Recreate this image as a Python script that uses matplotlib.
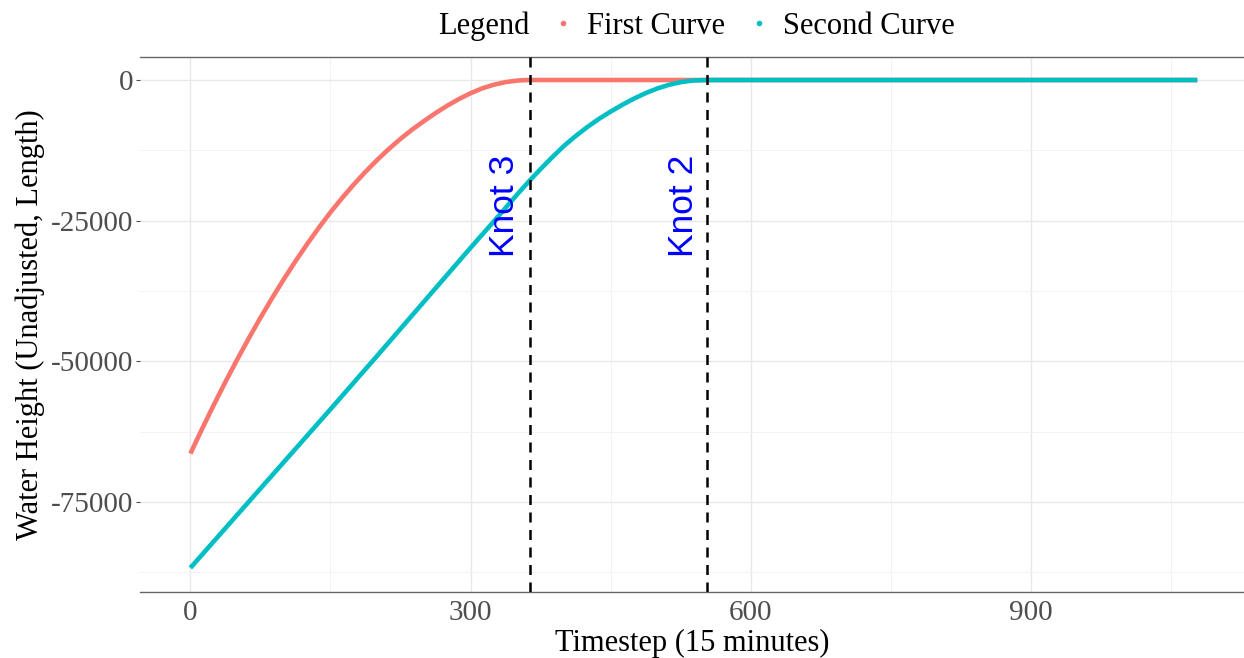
import matplotlib
matplotlib.use("Agg")
import matplotlib.pyplot as plt
from matplotlib.lines import Line2D

# values
first_t = [0, 12.5, 25, 37.5, 50, 62.5, 75, 87.5, 100, 112.5, 125, 137.5, 150, 162.5,
           175, 187.5, 200, 212.5, 225, 237.5, 250, 262.5, 275, 287.5, 300, 312.5,
           325, 337.5, 350, 357, 364, 553, 1078]
first_v = [-66400, -62000, -57750, -53650, -49700, -45900, -42250, -38750, -35400,
           -32200, -29150, -26250, -23500, -20950, -18550, -16300, -14200, -12250,
           -10450, -8800, -7300, -5870, -4560, -3380, -2340, -1480, -830, -370,
           -100, -25, 0, 0, 0]

second_t = [0, 50, 100, 150, 200, 250, 300, 325, 337.5, 350, 362.5, 375, 387.5, 400,
            412.5, 425, 437.5, 450, 462.5, 475, 487.5, 500, 512.5, 525, 537.5, 553, 1078]
second_v = [-86700, -77300, -67900, -58500, -49000, -39400, -29800, -25100, -22700,
            -20300, -18000, -15800, -13700, -11700, -9950, -8350, -6900, -5600,
            -4400, -3300, -2320, -1500, -850, -380, -100, 0, 0]

knots = [364, 553]
knot_labels = ["Knot 3", "Knot 2"]
knot_text_x = [336, 528]
knot_text_y = -22400

red = "#F8766D"
cyan = "#00BFC4"

plt.rcParams["font.family"] = ["Liberation Serif", "DejaVu Serif"]
plt.rcParams["axes.unicode_minus"] = False

fig = plt.figure(figsize=(12.44, 6.58), dpi=100)
ax = fig.add_axes([0.1125, 0.1003, 0.8875, 0.8131])

ax.plot(first_t, first_v, color=red, lw=3.3, solid_capstyle="butt", solid_joinstyle="round", zorder=3)
ax.plot(second_t, second_v, color=cyan, lw=3.3, solid_capstyle="butt", solid_joinstyle="round", zorder=4)

for k, lab, tx in zip(knots, knot_labels, knot_text_x):
    ax.axvline(k, color="black", lw=1.8, linestyle=(0, (4, 3)), zorder=5)
    ax.text(tx, knot_text_y, lab, rotation=90, ha="center", va="center",
            color="#0000FF", fontsize=25.5, family=["Liberation Sans", "DejaVu Sans"], zorder=6)

ax.set_xlim(-54, 1128)
ax.set_ylim(-90983, 4093)
ax.set_xticks([0, 300, 600, 900])
ax.set_xticks([150, 450, 750, 1050], minor=True)
ax.set_yticks([0, -25000, -50000, -75000])
ax.set_yticks([-12500, -37500, -62500, -87500], minor=True)
ax.grid(which="major", color="#E8E8E8", lw=1.0)
ax.grid(which="minor", color="#F3F3F3", lw=0.7)
ax.set_axisbelow(True)

ax.tick_params(axis="x", which="both", length=0, labelsize=21, labelcolor="#4D4D4D", pad=6)
ax.tick_params(axis="y", which="major", length=3, color="#4D4D4D", labelsize=21, labelcolor="#4D4D4D", pad=2)
ax.tick_params(axis="y", which="minor", length=0)

for s in ["left", "right"]:
    ax.spines[s].set_visible(False)
for s in ["top", "bottom"]:
    ax.spines[s].set_color("#666666")
    ax.spines[s].set_linewidth(1.0)

ax.set_xlabel("Timestep (15 minutes)", fontsize=22, labelpad=2)
ax.set_ylabel("Water Height (Unadjusted, Length)", fontsize=22, labelpad=4)

handles = [
    Line2D([], [], linestyle="none", marker=None),
    Line2D([], [], linestyle="none", marker="o", markersize=3, color=red),
    Line2D([], [], linestyle="none", marker="o", markersize=3, color=cyan),
]
fig.legend(handles, ["Legend", "First Curve", "Second Curve"], loc="center",
           bbox_to_anchor=(0.545, 0.960), ncol=3, frameon=False, fontsize=22,
           handlelength=0.8, handletextpad=0.4, columnspacing=0.7)

fig.savefig("out.png", dpi=100)
